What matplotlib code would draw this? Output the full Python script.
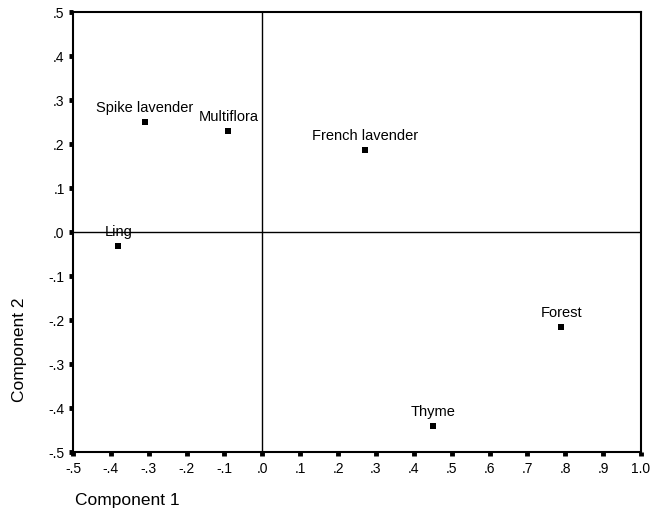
import numpy as np
import matplotlib.pyplot as plt

plt.rcParams['font.family'] = ['Liberation Sans', 'DejaVu Sans']

# component loadings
names = ['Spike lavender', 'Multiflora', 'French lavender', 'Ling', 'Forest', 'Thyme']
comp1 = [-0.31, -0.09, 0.27, -0.38, 0.79, 0.45]
comp2 = [0.25, 0.23, 0.186, -0.032, -0.216, -0.44]

xticks = np.round(np.arange(-0.5, 1.01, 0.1), 1)
yticks = np.round(np.arange(-0.5, 0.51, 0.1), 1)

def fmt(v):
    s = f"{v:.1f}"
    if s.startswith('0.'):
        s = s[1:]
    elif s.startswith('-0.'):
        s = '-' + s[2:]
    if s == '-.0':
        s = '.0'
    return s

fig = plt.figure(figsize=(6.52, 5.29), dpi=100)
ax = fig.add_axes([73/652, 77/529, 568/652, 440/529])

ax.axhline(0, color='black', lw=1.0, zorder=1)
ax.axvline(0, color='black', lw=1.0, zorder=1)
ax.scatter(comp1, comp2, marker='s', s=14, color='black', zorder=3, linewidths=0)
for n, x, y in zip(names, comp1, comp2):
    ax.annotate(n, (x, y), xytext=(0, 5), textcoords='offset points',
                ha='center', va='bottom', fontsize=10.5)

ax.set_xlim(-0.5, 1.0)
ax.set_ylim(-0.5, 0.5)
ax.set_xticks(xticks)
ax.set_yticks(yticks)
ax.set_xticklabels([fmt(v) for v in xticks], fontsize=10)
ax.set_yticklabels([fmt(v) for v in yticks], fontsize=10)
ax.tick_params(axis='x', direction='out', length=3, width=3.5, color='black', pad=4)
ax.tick_params(axis='y', direction='out', length=3, width=3.5, color='black', pad=3)
for sp in ax.spines.values():
    sp.set_linewidth(1.5)

fig.text(20/652, 1 - 350/529, 'Component 2', rotation=90, ha='center', va='center', fontsize=12.5)
fig.text(75/652, 1 - 500/529, 'Component 1', ha='left', va='center', fontsize=12.5)

fig.savefig('out.png', dpi=100)
